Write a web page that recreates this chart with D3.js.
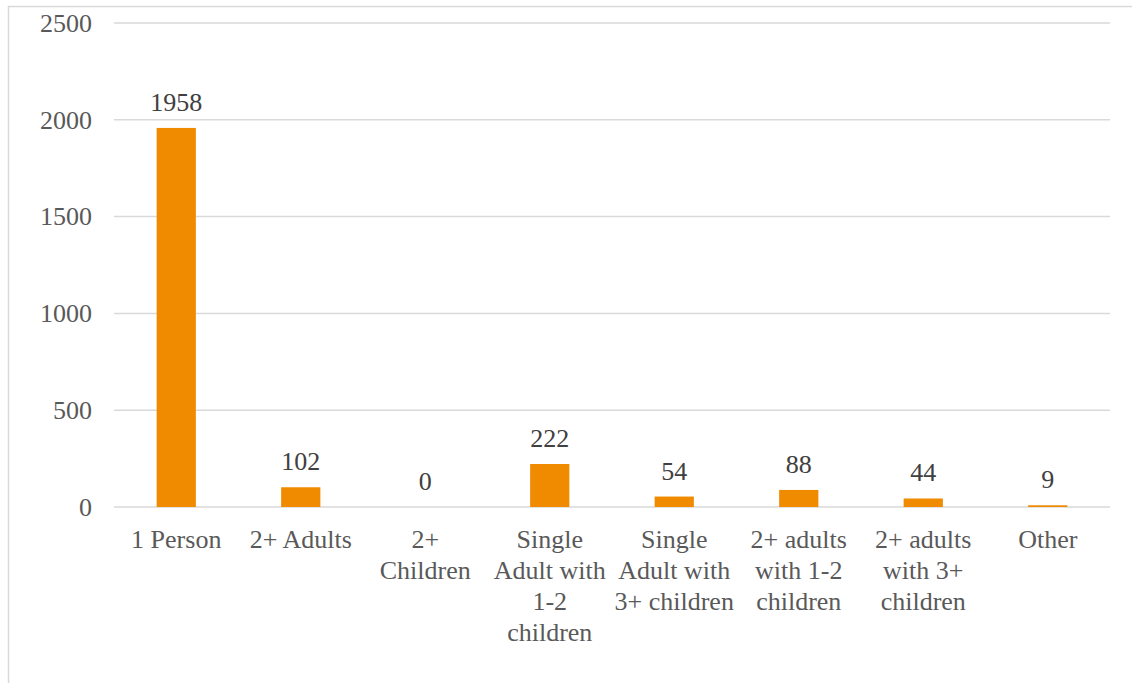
<!DOCTYPE html>
<html>
<head>
<meta charset="utf-8">
<script src="https://cdn.jsdelivr.net/npm/d3@7"></script>
<style>
  html, body { margin: 0; padding: 0; background: #fff; }
  svg { display: block; }
  svg text { font-family: 'Liberation Serif', 'Times New Roman', Tinos, 'DejaVu Serif', 'Noto Serif', FreeSerif, Times, serif; font-size: 26px; }
</style>
</head>
<body>
<div id="chart"></div>
<script>
// household types and counts
var categories = [
    ["1 Person"],
    ["2+ Adults"],
    ["2+", "Children"],
    ["Single", "Adult with", "1-2", "children"],
    ["Single", "Adult with", "3+ children"],
    ["2+ adults", "with 1-2", "children"],
    ["2+ adults", "with 3+", "children"],
    ["Other"]
];
var values = [1958, 102, 0, 222, 54, 88, 44, 9];
var yTicks = [0, 500, 1000, 1500, 2000, 2500];

var width = 1132, height = 683;
var margin = {top: 23, right: 22, bottom: 176, left: 114};
var barColor = '#f08b00';
var gridColor = '#d9d9d9';

var svg = d3.select('#chart')
        .append('svg')
        .attr('width', width)
        .attr('height', height);

// outer chart border (runs off the right and bottom edges)
svg.append('rect')
        .attr('x', 8.5)
        .attr('y', 6.5)
        .attr('width', width + 20)
        .attr('height', height + 20)
        .attr('fill', 'none')
        .attr('stroke', gridColor)
        .attr('stroke-width', 1.5);

var x = d3.scaleBand()
        .domain(d3.range(categories.length))
        .range([margin.left, width - margin.right])
        .padding(0);

var y = d3.scaleLinear()
        .domain([0, 2500])
        .range([height - margin.bottom, margin.top]);

var barW = x.bandwidth() * 0.315;

// gridlines
svg.append('g')
        .selectAll('line')
        .data(yTicks)
        .enter().append('line')
        .attr('x1', margin.left)
        .attr('x2', width - margin.right)
        .attr('y1', function (d) { return y(d); })
        .attr('y2', function (d) { return y(d); })
        .attr('stroke', gridColor)
        .attr('stroke-width', 1.5);

// y axis labels
svg.append('g')
        .selectAll('text')
        .data(yTicks)
        .enter().append('text')
        .attr('x', 92)
        .attr('y', function (d) { return y(d); })
        .attr('dy', '0.34em')
        .attr('text-anchor', 'end')
        .attr('fill', '#595959')
        .text(function (d) { return d; });

// bars
svg.append('g')
        .selectAll('rect')
        .data(values)
        .enter().append('rect')
        .attr('x', function (d, i) { return x(i) + (x.bandwidth() - barW) / 2; })
        .attr('y', function (d) { return y(d); })
        .attr('width', barW)
        .attr('height', function (d) { return y(0) - y(d); })
        .attr('fill', barColor);

// value labels
svg.append('g')
        .selectAll('text')
        .data(values)
        .enter().append('text')
        .attr('x', function (d, i) { return x(i) + x.bandwidth() / 2; })
        .attr('y', function (d) { return y(d) - 17; })
        .attr('text-anchor', 'middle')
        .attr('fill', '#404040')
        .text(function (d) { return d; });

// category labels
var cat = svg.append('g')
        .selectAll('text')
        .data(categories)
        .enter().append('text')
        .attr('text-anchor', 'middle')
        .attr('fill', '#595959');

cat.each(function (lines, i) {
    var t = d3.select(this);
    lines.forEach(function (line, j) {
        t.append('tspan')
                .attr('x', x(i) + x.bandwidth() / 2)
                .attr('y', y(0) + 41 + j * 31)
                .text(line);
    });
});
</script>
</body>
</html>
